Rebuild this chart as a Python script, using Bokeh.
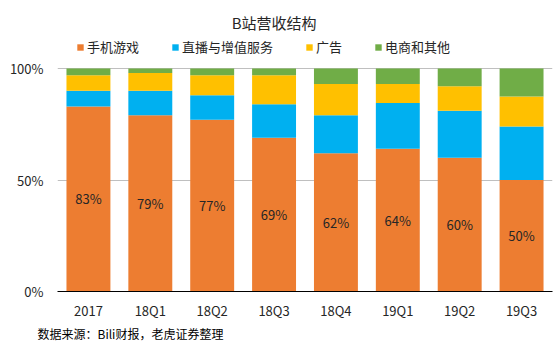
from bokeh.plotting import figure
from bokeh.models import ColumnDataSource, FactorRange, Legend, LegendItem, Title, NumeralTickFormatter, FixedTicker
from bokeh.embed import file_html
from bokeh.resources import INLINE
from bokeh.core.properties import value

categories = ["2017", "18Q1", "18Q2", "18Q3", "18Q4", "19Q1", "19Q2", "19Q3"]
game = [83, 79, 77, 69, 62, 64, 60, 50]
live = [7, 11, 11, 15, 17, 20.5, 21, 24]
ads = [7, 8, 9, 13, 14, 8.5, 11, 13.5]
other = [3, 2, 3, 3, 7, 7, 8, 12.5]
game_labels = ["83%", "79%", "77%", "69%", "62%", "64%", "60%", "50%"]
series_names = ["手机游戏", "直播与增值服务", "广告", "电商和其他"]
colors = ["#ED7D31", "#00B0F0", "#FFC000", "#70AD47"]
title_text = "B站营收结构"
source_note = "数据来源：Bili财报，老虎证券整理"

FONT = "Noto Sans CJK SC"
W, H = 554, 354
TOP, BOTTOM, LEFT, RIGHT = 8, 63, 57, 2
PLOT_H = 223  # pixels from 0% to 100%
y_top = (H - TOP - BOTTOM) / PLOT_H

src = ColumnDataSource(dict(
    cat=categories,
    game=[v / 100 for v in game],
    live=[v / 100 for v in live],
    ads=[v / 100 for v in ads],
    other=[v / 100 for v in other],
    mid=[v / 200 for v in game],
    lab=game_labels,
))

p = figure(x_range=FactorRange(*categories, range_padding=0), y_range=(0, y_top),
           width=W, height=H, title=None, output_backend="svg", toolbar_location=None,
           min_border_left=LEFT, min_border_right=RIGHT, min_border_top=TOP, min_border_bottom=BOTTOM,
           outline_line_color=None, background_fill_color="white", border_fill_color="white")

rs = p.vbar_stack(["game", "live", "ads", "other"], x="cat", width=0.71, source=src,
                  color=colors, line_color=None)

p.text(x="cat", y="mid", text="lab", source=src, text_align="center", text_baseline="middle",
       text_font=value(FONT), text_font_size="13px", text_color="#262626")

# chart title (drawn in the space above 100%)
p.text(x=[categories[3]], y=[(H - BOTTOM - 22) / PLOT_H], text=[title_text],
       text_align="center", text_baseline="middle",
       text_font=value(FONT), text_font_size="15px", text_color="#262626")

legend = Legend(items=[LegendItem(label=n, renderers=[r]) for n, r in zip(series_names, rs)],
                orientation="horizontal", location=(19, 235),
                label_text_font=FONT, label_text_font_size="13px", label_text_color="#262626",
                glyph_width=8, glyph_height=8, label_standoff=3, spacing=32,
                padding=0, margin=0, border_line_color=None, background_fill_alpha=0,
                label_height=14)
p.add_layout(legend)

p.yaxis.ticker = FixedTicker(ticks=[0, 0.5, 1])
p.yaxis.formatter = NumeralTickFormatter(format="0%")
p.yaxis.axis_line_color = None
p.yaxis.major_tick_line_color = None
p.yaxis.major_tick_out = 0
p.yaxis.major_label_standoff = 14
p.yaxis.minor_tick_line_color = None
p.yaxis.major_label_text_font = FONT
p.yaxis.major_label_text_font_size = "13px"
p.yaxis.major_label_text_color = "#262626"

p.xaxis.axis_line_color = "black"
p.xaxis.axis_line_width = 1
p.xaxis.major_tick_line_color = None
p.xaxis.major_tick_out = 0
p.xaxis.minor_tick_line_color = None
p.xaxis.major_label_text_font = FONT
p.xaxis.major_label_text_font_size = "13px"
p.xaxis.major_label_text_color = "#262626"
p.xaxis.major_label_standoff = 9

p.xgrid.grid_line_color = None
p.ygrid.grid_line_color = "#BFBFBF"

foot = Title(text=source_note, align="left", text_font=FONT, standoff=1,
             text_font_size="12px", text_font_style="normal", text_color="#000000", offset=-20)
p.add_layout(foot, "below")

open("out.html", "w").write(file_html(p, INLINE))
